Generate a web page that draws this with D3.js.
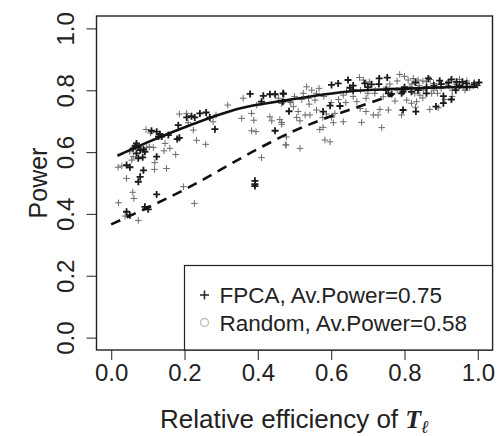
<!DOCTYPE html>
<html>
<head>
<meta charset="utf-8">
<script src="https://cdn.jsdelivr.net/npm/d3@7"></script>
<style>
  body { margin: 0; background: #fff; }
  svg text { font-family: "Liberation Sans", Arial, sans-serif; fill: #222; }
</style>
</head>
<body>
<div id="chart"></div>
<script>
// tick values of both axes
const xTicks = [0, 0.2, 0.4, 0.6, 0.8, 1.0];
const yTicks = [0, 0.2, 0.4, 0.6, 0.8, 1.0];

// legend entries
const legendLabels = ["FPCA, Av.Power=0.75", "Random, Av.Power=0.58"];

// fitted curve for FPCA (solid)
const fpcaCurveX = [0.017, 0.1, 0.215, 0.35, 0.48, 0.64, 0.82, 1.0];
const fpcaCurveY = [0.588, 0.632, 0.687, 0.741, 0.768, 0.795, 0.806, 0.811];

// fitted curve for Random (dashed)
const randomCurveX = [0.0, 0.215, 0.4, 0.49, 0.57, 0.7, 0.77];
const randomCurveY = [0.366, 0.488, 0.61, 0.664, 0.703, 0.757, 0.786];

// simulated powers, heavy (overplotted) marks
const darkPoints = [
  [0.069,0.628],[0.065,0.619],[0.074,0.615],[0.060,0.612],[0.079,0.606],[0.088,0.609],
  [0.069,0.596],[0.092,0.601],[0.086,0.583],[0.074,0.580],[0.042,0.558],[0.051,0.551],
  [0.088,0.541],[0.079,0.520],[0.074,0.504],[0.124,0.585],[0.110,0.669],[0.124,0.666],
  [0.133,0.658],[0.138,0.650],[0.156,0.655],[0.129,0.650],[0.183,0.687],[0.180,0.642],
  [0.186,0.646],[0.206,0.712],[0.219,0.716],[0.228,0.712],[0.242,0.725],[0.259,0.728],
  [0.269,0.712],[0.283,0.674],[0.379,0.788],[0.415,0.782],[0.433,0.787],[0.447,0.787],
  [0.470,0.788],[0.410,0.763],[0.447,0.669],[0.392,0.507],[0.392,0.496],[0.392,0.490],
  [0.101,0.415],[0.124,0.463],[0.092,0.423],[0.042,0.407],[0.051,0.396],
  [0.469,0.790],[0.485,0.732],[0.468,0.763],[0.601,0.817],[0.619,0.822],[0.646,0.833],
  [0.651,0.808],[0.660,0.800],[0.692,0.822],[0.710,0.819],[0.731,0.838],[0.753,0.841],
  [0.756,0.790],[0.765,0.788],[0.792,0.790],[0.796,0.795],[0.819,0.795],[0.837,0.800],
  [0.865,0.838],[0.860,0.790],[0.896,0.831],[0.928,0.835],[0.942,0.827],[0.958,0.827],
  [0.969,0.822],[1.003,0.825],[0.906,0.781],[0.928,0.770],[0.886,0.747],[0.906,0.758],
  [0.796,0.736],[0.831,0.731],[0.597,0.750],[0.624,0.749],[0.578,0.731],
  [0.88,0.815],[0.90,0.82],[0.92,0.825],[0.95,0.815],[0.97,0.81],[0.99,0.82],[0.94,0.80],
  [0.86,0.81],[0.80,0.81],[0.83,0.825],[0.75,0.80],[0.70,0.81],[0.73,0.82],[0.66,0.815]
];

// simulated powers, single marks
const lightPoints = [
  [0.019,0.551],[0.029,0.555],[0.042,0.515],[0.059,0.470],[0.062,0.450],[0.020,0.436],
  [0.038,0.393],[0.074,0.379],[0.056,0.574],[0.060,0.585],[0.051,0.601],[0.097,0.615],
  [0.104,0.617],[0.115,0.615],[0.147,0.628],[0.160,0.612],[0.144,0.604],[0.119,0.566],
  [0.118,0.544],[0.151,0.547],[0.176,0.592],[0.197,0.488],[0.227,0.434],[0.233,0.638],
  [0.258,0.625],[0.224,0.671],[0.206,0.725],[0.210,0.695],[0.186,0.723],[0.278,0.698],
  [0.286,0.720],[0.095,0.673],[0.107,0.662],[0.318,0.752],[0.360,0.774],[0.356,0.709],
  [0.383,0.725],[0.389,0.703],[0.397,0.752],[0.383,0.669],[0.395,0.666],[0.410,0.582],
  [0.433,0.714],[0.438,0.701],[0.460,0.705],[0.465,0.690],[0.476,0.623],[0.478,0.649],
  [0.456,0.774],[0.465,0.757],[0.488,0.763],
  [0.533,0.811],[0.547,0.800],[0.567,0.806],[0.524,0.790],[0.538,0.774],[0.556,0.768],
  [0.497,0.747],[0.510,0.731],[0.506,0.712],[0.515,0.701],[0.529,0.720],[0.542,0.720],
  [0.560,0.736],[0.577,0.712],[0.578,0.680],[0.569,0.673],[0.587,0.723],[0.601,0.712],
  [0.610,0.725],[0.606,0.695],[0.633,0.698],[0.683,0.696],[0.738,0.679],[0.715,0.720],
  [0.728,0.720],[0.733,0.738],[0.756,0.736],[0.774,0.765],[0.695,0.731],[0.679,0.741],
  [0.670,0.763],[0.695,0.774],[0.719,0.790],[0.742,0.779],[0.677,0.841],[0.688,0.833],
  [0.704,0.827],[0.787,0.851],[0.810,0.833],[0.824,0.838],[0.837,0.833],[0.815,0.811],
  [0.828,0.790],[0.842,0.784],[0.851,0.800],[0.874,0.790],[0.887,0.811],[0.915,0.822],
  [0.937,0.811],[0.965,0.800],[0.978,0.808],[0.869,0.738],[0.892,0.743],[0.792,0.720],
  [0.583,0.639],[0.597,0.633],[0.515,0.612],[0.477,0.623],[0.465,0.696],[0.642,0.795],
  [0.633,0.784],[0.806,0.768],[0.819,0.758],[0.833,0.763],[0.860,0.827],[0.879,0.822],
  [0.988,0.814],
  [0.76,0.82],[0.78,0.83],[0.80,0.845],[0.82,0.82],[0.84,0.815],[0.85,0.83],[0.87,0.835],
  [0.88,0.80],[0.89,0.79],[0.90,0.805],[0.92,0.815],[0.93,0.80],[0.94,0.82],[0.95,0.835],
  [0.96,0.81],[0.97,0.83],[0.99,0.825],[1.0,0.815],[0.91,0.77],[0.93,0.78],[0.85,0.775],
  [0.83,0.745],[0.80,0.80],[0.78,0.80],[0.75,0.81],[0.72,0.80],[0.70,0.79],[0.68,0.80],
  [0.66,0.78],[0.64,0.76],[0.62,0.77],[0.60,0.76],[0.58,0.78],[0.56,0.79],[0.54,0.755],
  [0.52,0.77],[0.50,0.78],[0.49,0.76]
];

const width = 497, height = 436;
const margin = { top: 16, right: 4.5, bottom: 86, left: 96.5 };

const svg = d3.select("#chart").append("svg")
  .attr("width", width)
  .attr("height", height);

// R style 4% padding around [0,1]
const x = d3.scaleLinear().domain([-0.04, 1.04]).range([margin.left, width - margin.right]);
const y = d3.scaleLinear().domain([-0.04, 1.04]).range([height - margin.bottom, margin.top]);

// points as small crosses
function cross(g, pts, cls, size, color, sw) {
  g.selectAll("path." + cls)
    .data(pts)
    .join("path")
    .attr("class", cls)
    .attr("d", d => {
      const px = x(d[0]), py = y(d[1]);
      return `M${px - size},${py}H${px + size}M${px},${py - size}V${py + size}`;
    })
    .attr("stroke", color)
    .attr("stroke-width", sw)
    .attr("fill", "none");
}

const pts = svg.append("g");
cross(pts, lightPoints, "light", 3.3, "#6a6a6a", 1);
cross(pts, darkPoints, "dark", 3.5, "#1a1a1a", 1.8);

// curves
const line = d3.line().x(d => x(d[0])).y(d => y(d[1])).curve(d3.curveMonotoneX);

svg.append("path")
  .datum(fpcaCurveX.map((v, i) => [v, fpcaCurveY[i]]))
  .attr("d", line)
  .attr("fill", "none")
  .attr("stroke", "#111")
  .attr("stroke-width", 2.6);

svg.append("path")
  .datum(randomCurveX.map((v, i) => [v, randomCurveY[i]]))
  .attr("d", line)
  .attr("fill", "none")
  .attr("stroke", "#111")
  .attr("stroke-width", 2.6)
  .attr("stroke-dasharray", "10,7");

// x axis ticks + labels
const xAxis = d3.axisBottom(x).tickValues(xTicks).tickFormat(d3.format(".1f"))
  .tickSize(10).tickSizeOuter(0).tickPadding(4);
svg.append("g")
  .attr("transform", `translate(0,${height - margin.bottom})`)
  .call(xAxis)
  .call(g => g.select(".domain").remove())
  .call(g => g.selectAll("line").attr("stroke", "#444").attr("stroke-width", 1.2))
  .call(g => g.selectAll("text").attr("font-size", 24).attr("fill", "#222")
    .attr("font-family", "Liberation Sans, Arial, sans-serif"));

// y axis ticks + rotated labels (R las=0)
const yAxis = d3.axisLeft(y).tickValues(yTicks).tickFormat(d3.format(".1f"))
  .tickSize(10).tickSizeOuter(0);
svg.append("g")
  .attr("transform", `translate(${margin.left},0)`)
  .call(yAxis)
  .call(g => g.select(".domain").remove())
  .call(g => g.selectAll("line").attr("stroke", "#444").attr("stroke-width", 1.2))
  .call(g => g.selectAll("text")
    .attr("x", null).attr("dy", null)
    .attr("transform", "translate(-23,0) rotate(-90)")
    .attr("text-anchor", "middle")
    .attr("font-size", 24).attr("fill", "#222")
    .attr("font-family", "Liberation Sans, Arial, sans-serif"));

// plot box
svg.append("rect")
  .attr("x", margin.left)
  .attr("y", margin.top)
  .attr("width", width - margin.left - margin.right)
  .attr("height", height - margin.top - margin.bottom)
  .attr("fill", "none")
  .attr("stroke", "#222")
  .attr("stroke-width", 1.4);

// legend, bottom right corner
const lg = svg.append("g");
const lgLeft = x(0.2), lgTop = 265.5;
lg.append("rect")
  .attr("x", lgLeft)
  .attr("y", lgTop)
  .attr("width", x.range()[1] - lgLeft)
  .attr("height", y.range()[0] - lgTop)
  .attr("fill", "#fff")
  .attr("stroke", "#222")
  .attr("stroke-width", 1.2);

legendLabels.forEach((lab, i) => {
  const by = lgTop + 37.5 + i * 27.5;
  lg.append("text")
    .attr("x", lgLeft + 35)
    .attr("y", by)
    .attr("font-size", 22.5)
    .text(lab);
  if (i === 0) {
    lg.append("path")
      .attr("d", `M${lgLeft + 15.5},${by - 8}h9M${lgLeft + 20},${by - 12.5}v9`)
      .attr("stroke", "#222")
      .attr("stroke-width", 1.5);
  } else {
    lg.append("circle")
      .attr("cx", lgLeft + 20)
      .attr("cy", by - 8)
      .attr("r", 4)
      .attr("fill", "none")
      .attr("stroke", "#bbb")
      .attr("stroke-width", 1.3);
  }
});

// axis titles
const xt = svg.append("text")
  .attr("x", (margin.left + width - margin.right) / 2)
  .attr("y", 428)
  .attr("text-anchor", "middle")
  .attr("font-size", 26);
xt.append("tspan").text("Relative efficiency of ");
xt.append("tspan")
  .attr("font-family", "Liberation Serif, DejaVu Serif, serif")
  .attr("font-weight", "bold")
  .attr("font-style", "italic")
  .text("T");
xt.append("tspan")
  .attr("font-family", "Liberation Serif, DejaVu Serif, serif")
  .attr("font-weight", "bold")
  .attr("font-style", "italic")
  .attr("font-size", 18)
  .attr("dy", 5)
  .text("ℓ");

svg.append("text")
  .attr("transform", `translate(47,${(margin.top + height - margin.bottom) / 2}) rotate(-90)`)
  .attr("text-anchor", "middle")
  .attr("font-size", 25)
  .text("Power");
</script>
</body>
</html>
